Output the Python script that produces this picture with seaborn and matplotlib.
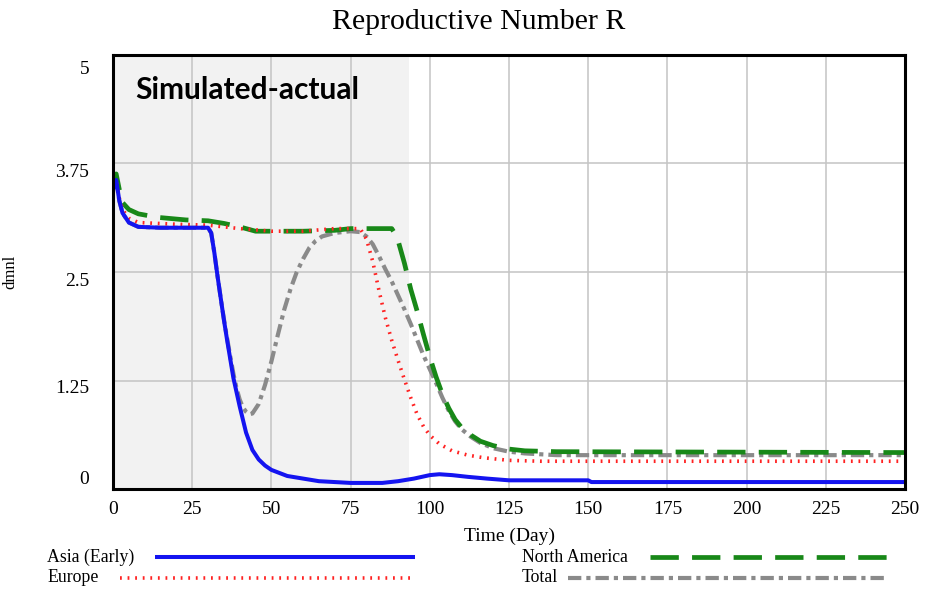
import matplotlib
matplotlib.use("Agg")
import matplotlib.pyplot as plt
from matplotlib.lines import Line2D
from matplotlib.transforms import ScaledTranslation
import seaborn as sns

# ---- data (day, R) ----
asia_t = [0, 1, 2, 3, 5, 8, 15, 25, 30, 31, 32, 33, 34, 35, 36, 37, 38, 40, 42, 44,
          46, 48, 50, 55, 60, 65, 70, 75, 85, 90, 95, 100, 103, 107, 112, 118, 125, 150, 151, 250]
asia_r = [3.45, 3.56, 3.32, 3.18, 3.07, 3.02, 3.01, 3.01, 3.01, 2.95, 2.72, 2.45, 2.2, 1.95, 1.72,
          1.5, 1.28, 0.95, 0.65, 0.45, 0.34, 0.27, 0.22, 0.15, 0.12, 0.09, 0.08, 0.07, 0.07, 0.09,
          0.12, 0.16, 0.17, 0.16, 0.14, 0.12, 0.10, 0.10, 0.08, 0.08]

europe_t = [0, 1, 2, 3, 5, 8, 20, 30, 40, 50, 60, 70, 78, 80, 82, 84, 86, 88, 90, 92,
            94, 96, 98, 100, 103, 107, 112, 117, 125, 135, 250]
europe_r = [3.4, 3.55, 3.35, 3.22, 3.12, 3.07, 3.05, 3.04, 3.0, 2.97, 2.97, 3.0, 3.0, 2.88, 2.62,
            2.28, 1.97, 1.71, 1.48, 1.26, 1.05, 0.86, 0.72, 0.62, 0.52, 0.44, 0.39, 0.36, 0.33,
            0.32, 0.32]

namerica_t = [0, 1, 2, 3, 5, 8, 14, 23, 30, 35, 40, 45, 60, 70, 75, 88, 89, 90, 92, 94,
              96, 98, 100, 102, 104, 106, 108, 110, 113, 116, 120, 125, 130, 140, 250]
namerica_r = [3.5, 3.63, 3.45, 3.3, 3.22, 3.17, 3.13, 3.1, 3.09, 3.06, 3.02, 2.97, 2.97, 2.98,
              3.0, 3.0, 2.94, 2.86, 2.6, 2.3, 2.05, 1.78, 1.52, 1.29, 1.09, 0.93, 0.8, 0.71,
              0.62, 0.55, 0.5, 0.46, 0.44, 0.43, 0.42]

total_t = [0, 1, 2, 3, 5, 8, 15, 25, 30, 31, 32, 33, 34, 35, 36, 37, 38, 39, 40, 41,
           42, 43, 44, 46, 48, 50, 52, 54, 56, 58, 60, 62, 64, 66, 70, 75, 78, 80, 82, 84,
           86, 88, 90, 92, 94, 96, 98, 100, 102, 104, 106, 108, 110, 113, 116, 120, 125, 130, 140, 250]
total_r = [3.45, 3.56, 3.32, 3.18, 3.07, 3.02, 3.01, 3.01, 3.01, 2.95, 2.72, 2.45, 2.2, 1.96, 1.74,
           1.53, 1.33, 1.16, 1.03, 0.94, 0.89, 0.86, 0.87, 0.98, 1.2, 1.47, 1.77, 2.06, 2.3, 2.5,
           2.65, 2.78, 2.86, 2.91, 2.95, 2.97, 2.96, 2.91, 2.82, 2.68, 2.53, 2.39, 2.23, 2.07, 1.9,
           1.72, 1.54, 1.38, 1.22, 1.05, 0.9, 0.78, 0.69, 0.6, 0.53, 0.47, 0.43, 0.41, 0.39, 0.39]

x_ticks = [0, 25, 50, 75, 100, 125, 150, 175, 200, 225, 250]
y_ticks = [0, 1.25, 2.5, 3.75, 5]
y_tick_labels = ["0", "1.25", "2.5", "3.75", "5"]
simulated_end = 93.4

# ---- style ----
sns.set_theme(style="white")
plt.rcParams["font.family"] = ["Liberation Serif", "DejaVu Serif"]

BLUE = "#1414f0"
RED = "#ff2222"
GREEN = "#188818"
GRAY = "#8a8a8a"

fig = plt.figure(figsize=(9.25, 5.89), dpi=100)
ax = fig.add_axes([113 / 925, 1 - 489 / 589, 792 / 925, 434 / 589])

ax.axvspan(0, simulated_end, color="#f2f2f2", lw=0, zorder=0)

styles = {
    "Total": dict(color=GRAY, lw=3.0, linestyle=(0, (3.2, 1.2, 1.0, 1.2))),
    "North America": dict(color=GREEN, lw=3.4, linestyle=(0, (6.0, 2.8))),
    "Europe": dict(color=RED, lw=2.6, linestyle=(0, (0.5, 1.6))),
    "Asia (Early)": dict(color=BLUE, lw=2.9, linestyle="-"),
}
series = [("Total", total_t, total_r), ("North America", namerica_t, namerica_r),
          ("Europe", europe_t, europe_r), ("Asia (Early)", asia_t, asia_r)]

for z, (name, t, r) in enumerate(series):
    st = styles[name]
    sns.lineplot(x=t, y=r, ax=ax, color=st["color"], lw=st["lw"], linestyle=st["linestyle"],
                 errorbar=None, zorder=3 + z, solid_capstyle="butt", dash_capstyle="butt")

ax.set_xlim(0, 250)
ax.set_ylim(0, 5)
ax.set_xticks(x_ticks)
ax.set_xticklabels([str(v) for v in x_ticks])
ax.set_yticks(y_ticks)
ax.set_yticklabels(y_tick_labels)
ax.grid(True, color="#c4c4c4", lw=1.1)
ax.set_axisbelow(False)
for gl in ax.get_xgridlines() + ax.get_ygridlines():
    gl.set_zorder(1)

for sp in ax.spines.values():
    sp.set_visible(True)
    sp.set_color("black")
    sp.set_linewidth(2.2)
    sp.set_zorder(10)

ax.tick_params(axis="both", length=0, labelsize=14, colors="black")
ax.tick_params(axis="x", pad=9)
ax.tick_params(axis="y", pad=17)

# vertical placement of the y tick labels
y_shift_px = [12, -6, -8, -7, -13]
for lab, dy in zip(ax.get_yticklabels(), y_shift_px):
    lab.set_transform(lab.get_transform() + ScaledTranslation(0, dy / 100, fig.dpi_scale_trans))

ax.set_xlabel("Time (Day)", fontsize=14, color="black")
ax.xaxis.set_label_coords(0.5, -0.09)
ax.set_ylabel("dmnl", fontsize=12, color="black")
ax.yaxis.set_label_coords(-0.12, 0.5)

fig.text(479 / 925, 1 - 22 / 589, "Reproductive Number R", ha="center", va="center",
         fontsize=21.5, color="black")

ax.text(135 / 925, 1 - 90 / 589, "Simulated-actual", transform=fig.transFigure,
        ha="left", va="center", fontsize=21.5, fontweight="bold", family="Lato", color="black",
        zorder=12)

# ---- legend ----
legend_rows = [
    ("Asia (Early)", 47, 155, 415, 557, "Asia (Early)"),
    ("Europe", 47, 120, 415, 578, "Europe"),
    ("North America", 522, 650, 887, 557, "North America"),
    ("Total", 522, 568, 887, 578, "Total"),
]
for label, tx, x0, x1, y, key in legend_rows:
    fig.text(tx / 925, 1 - y / 589, label, ha="left", va="center", fontsize=12.8, color="black")
    st = styles[key]
    fig.add_artist(Line2D([x0 / 925, x1 / 925], [1 - y / 589, 1 - y / 589],
                          transform=fig.transFigure, color=st["color"], lw=st["lw"],
                          linestyle=st["linestyle"], solid_capstyle="butt",
                          dash_capstyle="butt"))

fig.savefig("out.png", dpi=100)
